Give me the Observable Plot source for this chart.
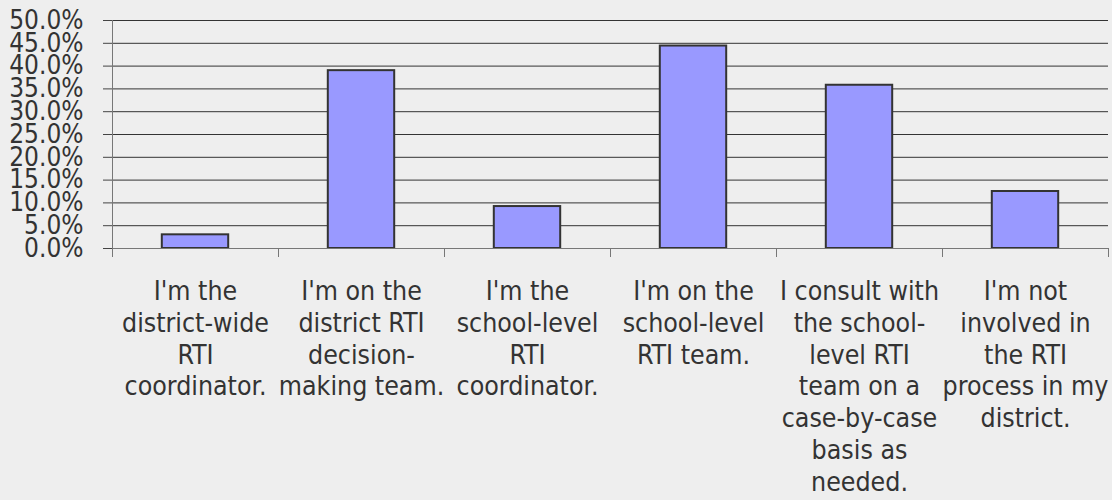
<!DOCTYPE html>
<html><head><meta charset="utf-8">
<script src="https://cdn.jsdelivr.net/npm/d3@7"></script>
<script src="https://cdn.jsdelivr.net/npm/@observablehq/plot@0.6"></script>
<style>
html,body{margin:0;padding:0;background:#eeeeee;}
</style></head><body><div id="chart"></div>
<script>
const categories = [
  "I'm the district-wide RTI coordinator.",
  "I'm on the district RTI decision-making team.",
  "I'm the school-level RTI coordinator.",
  "I'm on the school-level RTI team.",
  "I consult with the school-level RTI team on a case-by-case basis as needed.",
  "I'm not involved in the RTI process in my district."
];
const values = [3.0, 39.0, 9.2, 44.4, 35.8, 12.5];
const tickLabels = [
  "I'm the\ndistrict-wide\nRTI\ncoordinator.",
  "I'm on the\ndistrict RTI\ndecision-\nmaking team.",
  "I'm the\nschool-level\nRTI\ncoordinator.",
  "I'm on the\nschool-level\nRTI team.",
  "I consult with\nthe school-\nlevel RTI\nteam on a\ncase-by-case\nbasis as\nneeded.",
  "I'm not\ninvolved in\nthe RTI\nprocess in my\ndistrict."
];
const yTicks = [0, 5, 10, 15, 20, 25, 30, 35, 40, 45, 50];

const data = categories.map((c, i) => ({index: i, category: c, value: values[i]}));
const boundaries = d3.range(categories.length + 1);
const centers = d3.range(categories.length).map(i => i + 0.5);

const font = "'DejaVu Sans Condensed', 'DejaVu Sans', Verdana, sans-serif";

const chart = Plot.plot({
  width: 1112, height: 500,
  marginLeft: 112, marginRight: 4, marginTop: 20, marginBottom: 252,
  style: {background: "#eeeeee", fontFamily: font, fontStretch: "condensed", color: "#333"},
  x: {domain: [0, categories.length], axis: null},
  y: {domain: [0, 50], axis: null},
  marks: [
    Plot.gridY(yTicks, {stroke: "#333", strokeOpacity: 1}),
    Plot.axisY(yTicks, {label: null, tickSize: 9, tickPadding: 20, tickFormat: d => d.toFixed(1) + "%", stroke: "#444", fill: "#333", fontSize: 26}),
    Plot.ruleX([0], {y1: 0, y2: 50, stroke: "#777"}),
    Plot.axisX(boundaries, {label: null, tickSize: 9, tickFormat: () => "", stroke: "#777"}),
    Plot.axisX(centers, {label: null, tickSize: 0, tickPadding: 29, tickFormat: d => tickLabels[Math.floor(d)], lineHeight: 1.2, fill: "#333", fontSize: 26.5}),
    Plot.rectY(data, {x1: d => d.index + 0.3, x2: d => d.index + 0.7, y: "value", fill: "#9999ff", stroke: "#333", strokeWidth: 2}),
    Plot.ruleY([0], {stroke: "#777"})
  ]
});
document.getElementById("chart").appendChild(chart);
</script></body></html>
